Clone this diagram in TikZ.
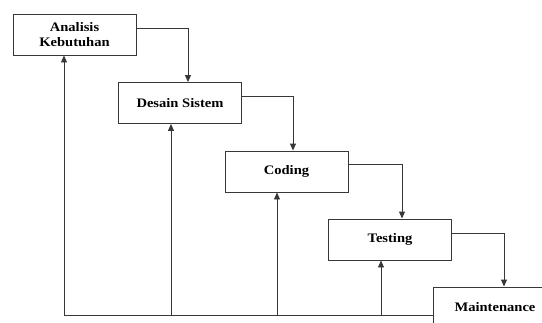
\documentclass[tikz,border=0pt]{standalone}
\usepackage{fontspec}
\setmainfont{Liberation Serif}
\newfontfamily\stepfont[FakeStretch=1.12]{Liberation Serif}
\usetikzlibrary{arrows.meta, positioning, calc}
\definecolor{lineblack}{RGB}{55, 55, 55}

\begin{document}
\begin{tikzpicture}[
    x=1pt, y=-1pt,
    phase/.style={rectangle, draw=lineblack, line width=0.9pt, minimum width=123pt, minimum height=41pt, text centered, align=center, font=\stepfont\bfseries\fontsize{13}{14.5}\selectfont},
    arrow/.style={line width=0.9pt, draw=lineblack, -{Triangle[length=7pt, width=6pt]}},
    line/.style={line width=0.9pt, draw=lineblack}
]
\useasboundingbox (0,0) rectangle (542,322);
\clip (0,0) rectangle (542,322);

% Phases
\node[phase] (analisis) at (74.5,34.5) {Analisis\\Kebutuhan};
\node[phase] (desain) at (180,103) {Desain Sistem};
\node[phase] (coding) at (286.5,171.5) {Coding};
\node[phase] (testing) at (390,239.5) {Testing};
\node[phase] (maintenance) at (495,307.5) {Maintenance};

% Forward arrows
\draw[arrow] ([yshift=6.5pt]analisis.east) -| ([xshift=8pt]desain.north);
\draw[arrow] ([yshift=7pt]desain.east) -| ([xshift=6.5pt]coding.north);
\draw[arrow] ([yshift=7.5pt]coding.east) -| ([xshift=12pt]testing.north);
\draw[arrow] ([yshift=6.5pt]testing.east) -| ([xshift=9pt]maintenance.north);

% Feedback
\coordinate (base) at (64,315);
\draw[line] (maintenance.west |- base) -- (base);
\draw[arrow] (base) -- ([xshift=-10.5pt]analisis.south);
\draw[arrow] ([xshift=-9pt]desain.south |- base) -- ([xshift=-9pt]desain.south);
\draw[arrow] ([xshift=-9.5pt]coding.south |- base) -- ([xshift=-9.5pt]coding.south);
\draw[arrow] ([xshift=-9pt]testing.south |- base) -- ([xshift=-9pt]testing.south);

\end{tikzpicture}
\end{document}
